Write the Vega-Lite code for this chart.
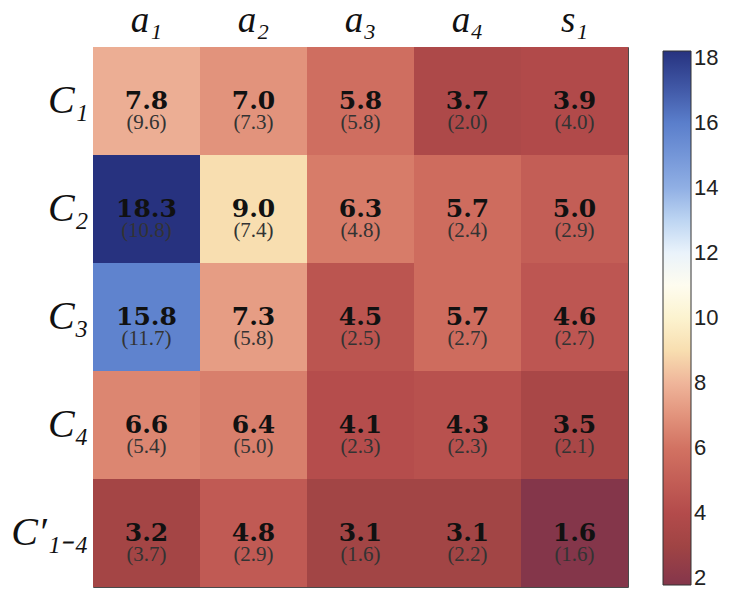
{
  "$schema": "https://vega.github.io/schema/vega-lite/v6.json",
  "width": 535,
  "height": 540,
  "autosize": {"type": "none"},
  "padding": {"left": 93, "top": 47, "right": 102, "bottom": 3},
  "background": "white",
  "config": {"view": {"stroke": "#4a4a4a", "strokeWidth": 1}},
  "data": {
    "values": [
      {"row": "C₁", "col": "a₁", "v": 7.8, "paren": "(9.6)"},
      {"row": "C₁", "col": "a₂", "v": 7.0, "paren": "(7.3)"},
      {"row": "C₁", "col": "a₃", "v": 5.8, "paren": "(5.8)"},
      {"row": "C₁", "col": "a₄", "v": 3.7, "paren": "(2.0)"},
      {"row": "C₁", "col": "s₁", "v": 3.9, "paren": "(4.0)"},
      {"row": "C₂", "col": "a₁", "v": 18.3, "paren": "(10.8)"},
      {"row": "C₂", "col": "a₂", "v": 9.0, "paren": "(7.4)"},
      {"row": "C₂", "col": "a₃", "v": 6.3, "paren": "(4.8)"},
      {"row": "C₂", "col": "a₄", "v": 5.7, "paren": "(2.4)"},
      {"row": "C₂", "col": "s₁", "v": 5.0, "paren": "(2.9)"},
      {"row": "C₃", "col": "a₁", "v": 15.8, "paren": "(11.7)"},
      {"row": "C₃", "col": "a₂", "v": 7.3, "paren": "(5.8)"},
      {"row": "C₃", "col": "a₃", "v": 4.5, "paren": "(2.5)"},
      {"row": "C₃", "col": "a₄", "v": 5.7, "paren": "(2.7)"},
      {"row": "C₃", "col": "s₁", "v": 4.6, "paren": "(2.7)"},
      {"row": "C₄", "col": "a₁", "v": 6.6, "paren": "(5.4)"},
      {"row": "C₄", "col": "a₂", "v": 6.4, "paren": "(5.0)"},
      {"row": "C₄", "col": "a₃", "v": 4.1, "paren": "(2.3)"},
      {"row": "C₄", "col": "a₄", "v": 4.3, "paren": "(2.3)"},
      {"row": "C₄", "col": "s₁", "v": 3.5, "paren": "(2.1)"},
      {"row": "C′₁₋₄", "col": "a₁", "v": 3.2, "paren": "(3.7)"},
      {"row": "C′₁₋₄", "col": "a₂", "v": 4.8, "paren": "(2.9)"},
      {"row": "C′₁₋₄", "col": "a₃", "v": 3.1, "paren": "(1.6)"},
      {"row": "C′₁₋₄", "col": "a₄", "v": 3.1, "paren": "(2.2)"},
      {"row": "C′₁₋₄", "col": "s₁", "v": 1.6, "paren": "(1.6)"}
    ]
  },
  "encoding": {
    "x": {
      "field": "col",
      "type": "nominal",
      "sort": ["a₁", "a₂", "a₃", "a₄", "s₁"],
      "scale": {"paddingInner": 0, "paddingOuter": 0},
      "axis": {
        "orient": "top",
        "title": null,
        "ticks": false,
        "domain": false,
        "labelAngle": 0,
        "labelFont": "Liberation Serif",
        "labelFontStyle": "italic",
        "labelFontSize": 37,
        "labelColor": "#111",
        "labelPadding": 8
      }
    },
    "y": {
      "field": "row",
      "type": "nominal",
      "sort": ["C₁", "C₂", "C₃", "C₄", "C′₁₋₄"],
      "scale": {"paddingInner": 0, "paddingOuter": 0},
      "axis": {
        "orient": "left",
        "title": null,
        "ticks": false,
        "domain": false,
        "labelFont": "Liberation Serif",
        "labelFontStyle": "italic",
        "labelFontSize": 40,
        "labelColor": "#111",
        "labelPadding": 5,
        "labelLimit": 200
      }
    }
  },
  "layer": [
    {
      "mark": {"type": "rect"},
      "encoding": {
        "color": {
          "field": "v",
          "type": "quantitative",
          "scale": {
            "clamp": true,
            "domain": [1.8, 3, 4, 5, 6, 7, 8, 9, 10, 11, 12, 13, 14, 16, 18.2],
            "range": ["#84364a", "#a04444", "#b34b4b", "#c35e56", "#d27262", "#e2937c", "#efb59a", "#f8deb0", "#fcf3cf", "#fefcef", "#eaf3fb", "#bdd5f2", "#90afe4", "#5a7ecb", "#27327f"]
          },
          "legend": {
            "type": "gradient",
            "title": null,
            "orient": "none",
            "legendX": 570,
            "legendY": 4,
            "direction": "vertical",
            "gradientLength": 534,
            "gradientThickness": 28,
            "gradientStrokeColor": "#333",
            "gradientStrokeWidth": 1,
            "values": [2, 4, 6, 8, 10, 12, 14, 16, 18],
            "labelFont": "Liberation Sans",
            "labelFontSize": 22,
            "labelColor": "#222",
            "labelOffset": 3,
            "labelOverlap": false
          }
        }
      }
    },
    {
      "mark": {"type": "text", "font": "DejaVu Serif", "fontWeight": "bold", "fontSize": 25, "baseline": "middle", "dy": 0, "color": "#111"},
      "encoding": {"text": {"field": "v", "type": "quantitative", "format": ".1f"}}
    },
    {
      "mark": {"type": "text", "font": "Liberation Serif", "fontSize": 21, "baseline": "middle", "dy": 22, "color": "#333"},
      "encoding": {"text": {"field": "paren", "type": "nominal"}}
    }
  ]
}
